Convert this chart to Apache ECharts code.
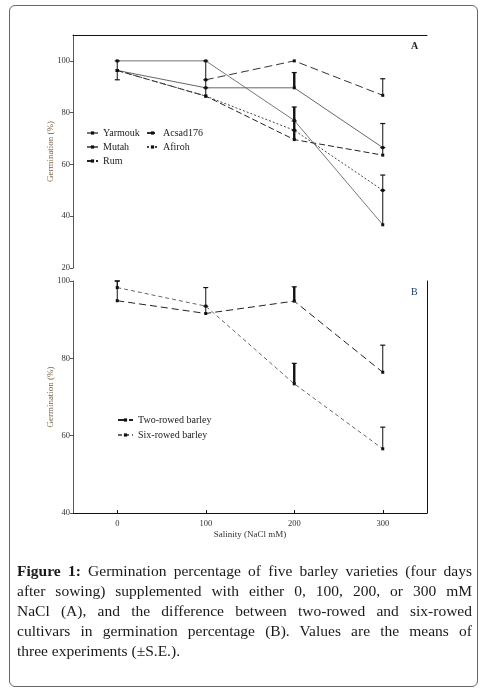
<!DOCTYPE html>
<html><head><meta charset="utf-8">
<script src="https://cdn.jsdelivr.net/npm/echarts@6/dist/echarts.min.js"></script>
<style>
html,body{margin:0;padding:0;background:#fff;}
#frame{position:absolute;left:9px;top:5px;width:467px;height:680px;border:1px solid #666;border-radius:6px;}
#chart{position:absolute;left:0;top:0;width:483px;height:692px;}
#cap{position:absolute;left:17px;top:561px;width:455px;font-family:'Liberation Serif','Times New Roman',serif;font-size:15.5px;line-height:19.9px;color:#1a1a1a;}
#cap .j{text-align:justify;text-align-last:justify;}
</style></head>
<body>
<div id="frame"></div>
<div id="chart"></div>
<div id="cap">
<div class="j"><b>Figure 1:</b> Germination percentage of five barley varieties (four days</div>
<div class="j">after sowing) supplemented with either 0, 100, 200, or 300 mM</div>
<div class="j">NaCl (A), and the difference between two-rowed and six-rowed</div>
<div class="j">cultivars in germination percentage (B). Values are the means of</div>
<div>three experiments (±S.E.).</div>
</div>
<script>
// ---- data ----
const salinity = [0, 100, 200, 300];
const xTicks = [0, 100, 200, 300];
const yTicksA = [20, 40, 60, 80, 100];
const yTicksB = [40, 60, 80, 100];

// Panel A (germination %)
const yarmouk  = [100, 100, 77, 36.7];
const mutah    = [96.3, 89.6, 89.6, 66.5];
const rum      = [96.3, 86.4, 69.6, 63.6];
const acsad176 = [null, 92.7, 100, 86.7];
const afiroh   = [96.3, 86.4, 73.2, 50];
// error extents [below, above]
const errYarmouk  = [[0,0],[0,0],[0,5.2],[0,13.3]];
const errMutah    = [[3.6,3.7],[0,3.1],[0,5.9],[0,9.3]];
const errRum      = [[0,0],[0,3.2],[0,3.6],[0,2.9]];
const errAcsad176 = [[0,0],[0,7.3],[0,0],[0,6.4]];
const errAfiroh   = [[0,0],[0,0],[0,3.6],[0,5.9]];

// Panel B
const twoRowed = [94.9, 91.6, 94.8, 76.4];
const sixRowed = [98.3, 93.5, 73.4, 56.6];
const errTwoRowed = [[0,5.1],[0,1.9],[0,3.7],[0,7.0]];
const errSixRowed = [[0,1.7],[0,4.8],[0,5.3],[0,5.6]];

// ---- chart ----
const FONT = "'Liberation Serif','Times New Roman',serif";
const chart = echarts.init(document.getElementById('chart'));

function pts(arr){ return salinity.map((x,i)=>[x, arr[i]]); }
function errRows(vals, errs){ return salinity.map((x,i)=>[x, vals[i], errs[i][0], errs[i][1]]).filter(r=>r[1]!=null); }

function errRender(params, api){
  const x = api.value(0), v = api.value(1), lo = api.value(2), hi = api.value(3);
  if (!lo && !hi) return null;
  const t = api.coord([x, v + hi]);
  const b = api.coord([x, v - lo]);
  const w = x === 200 ? 2.4 : 1;
  const c = 2.5;
  const kids = [
    {type:'line', shape:{x1:t[0],y1:t[1],x2:b[0],y2:b[1]}, style:{stroke:'#111',lineWidth:w}},
    {type:'line', shape:{x1:t[0]-c,y1:t[1],x2:t[0]+c,y2:t[1]}, style:{stroke:'#111',lineWidth:1.2}}
  ];
  if (lo) kids.push({type:'line', shape:{x1:b[0]-c,y1:b[1],x2:b[0]+c,y2:b[1]}, style:{stroke:'#111',lineWidth:1.2}});
  return {type:'group', children:kids};
}

function lineSeries(name, arr, color, type, sym, gi){
  return {
    name, type:'line', xAxisIndex:gi, yAxisIndex:gi, data:pts(arr),
    symbol:sym, symbolSize:3, showSymbol:true, connectNulls:false,
    lineStyle:{color, width:1, type}, itemStyle:{color:'#111'},
    emphasis:{disabled:true}, z:3
  };
}

const axisTxt = {fontFamily:FONT, fontSize:8.5, color:'#333'};

const option = {
  animation:false,
  backgroundColor:'transparent',
  grid:[
    {left:73, top:35, width:354, height:233},
    {left:73, top:281, width:354, height:232}
  ],
  xAxis:[
    {gridIndex:0, type:'value', min:-50, max:350, position:'top',
     axisLine:{show:true, onZero:false, lineStyle:{color:'#111', width:1}},
     axisTick:{show:false}, axisLabel:{show:false}, splitLine:{show:false}},
    {gridIndex:1, type:'value', min:-50, max:350, position:'bottom',
     name:'Salinity (NaCl mM)', nameLocation:'middle', nameGap:17, nameMoveOverlap:false,
     nameTextStyle:{fontFamily:FONT, fontSize:9, color:'#333'},
     axisLine:{show:true, onZero:false, lineStyle:{color:'#111', width:1}},
     axisTick:{show:true, inside:true, length:3, customValues:xTicks, lineStyle:{color:'#111'}},
     axisLabel:Object.assign({customValues:xTicks, margin:6}, axisTxt),
     splitLine:{show:false}}
  ],
  yAxis:[
    {gridIndex:0, type:'value', min:20, max:110, position:'left',
     name:'Germination (%)', nameLocation:'middle', nameGap:18, nameMoveOverlap:false,
     nameTextStyle:{fontFamily:FONT, fontSize:9, color:'#7a6244'},
     axisLine:{show:true, onZero:false, lineStyle:{color:'#555', width:1}},
     axisTick:{show:true, length:3, customValues:yTicksA, lineStyle:{color:'#555'}},
     axisLabel:Object.assign({customValues:yTicksA, margin:3}, axisTxt),
     splitLine:{show:false}},
    {gridIndex:1, type:'value', min:40, max:100, position:'left',
     name:'Germination (%)', nameLocation:'middle', nameGap:18, nameMoveOverlap:false,
     nameTextStyle:{fontFamily:FONT, fontSize:9, color:'#7a6244'},
     axisLine:{show:true, onZero:false, lineStyle:{color:'#555', width:1}},
     axisTick:{show:true, length:3, customValues:yTicksB, lineStyle:{color:'#555'}},
     axisLabel:Object.assign({customValues:yTicksB, margin:3}, axisTxt),
     splitLine:{show:false}},
    {gridIndex:1, type:'value', min:40, max:100, position:'right',
     axisLine:{show:true, onZero:false, lineStyle:{color:'#111', width:1}},
     axisTick:{show:false}, axisLabel:{show:false}, splitLine:{show:false}}
  ],
  legend:[
    {data:['Yarmouk','Mutah','Rum'], orient:'vertical', left:86, top:128,
     itemWidth:11, itemHeight:4, itemGap:4, padding:0,
     textStyle:{fontFamily:FONT, fontSize:10, color:'#222'}},
    {data:['Acsad176','Afiroh'], orient:'vertical', left:146, top:128,
     itemWidth:11, itemHeight:4, itemGap:4, padding:0,
     textStyle:{fontFamily:FONT, fontSize:10, color:'#222'}},
    {data:['Two-rowed barley','Six-rowed barley'], orient:'vertical', left:117, top:415,
     itemWidth:15, itemHeight:4, itemGap:5, padding:0,
     textStyle:{fontFamily:FONT, fontSize:10, color:'#222'}}
  ],
  graphic:[
    {type:'text', left:411, top:41, style:{text:'A', fontFamily:FONT, fontSize:10, fontWeight:'bold', fill:'#222'}},
    {type:'text', left:411, top:287, style:{text:'B', fontFamily:FONT, fontSize:10, fill:'#1f3f6f'}}
  ],
  series:[
    lineSeries('Yarmouk', yarmouk, '#777', 'solid', 'rect', 0),
    lineSeries('Mutah', mutah, '#666', 'solid', 'rect', 0),
    lineSeries('Rum', rum, '#222', [6,3], 'rect', 0),
    lineSeries('Acsad176', acsad176, '#333', [8,4], 'rect', 0),
    lineSeries('Afiroh', afiroh, '#444', [2,2], 'rect', 0),
    {type:'custom', xAxisIndex:0, yAxisIndex:0, renderItem:errRender, z:4, silent:true,
     data:[].concat(errRows(yarmouk,errYarmouk), errRows(mutah,errMutah), errRows(rum,errRum),
                    errRows(acsad176,errAcsad176), errRows(afiroh,errAfiroh))},
    lineSeries('Two-rowed barley', twoRowed, '#222', [7,4], 'rect', 1),
    lineSeries('Six-rowed barley', sixRowed, '#666', [4,3], 'rect', 1),
    {type:'custom', xAxisIndex:1, yAxisIndex:1, renderItem:errRender, z:4, silent:true,
     data:[].concat(errRows(twoRowed,errTwoRowed), errRows(sixRowed,errSixRowed))}
  ]
};
chart.setOption(option);
</script>
</body></html>
